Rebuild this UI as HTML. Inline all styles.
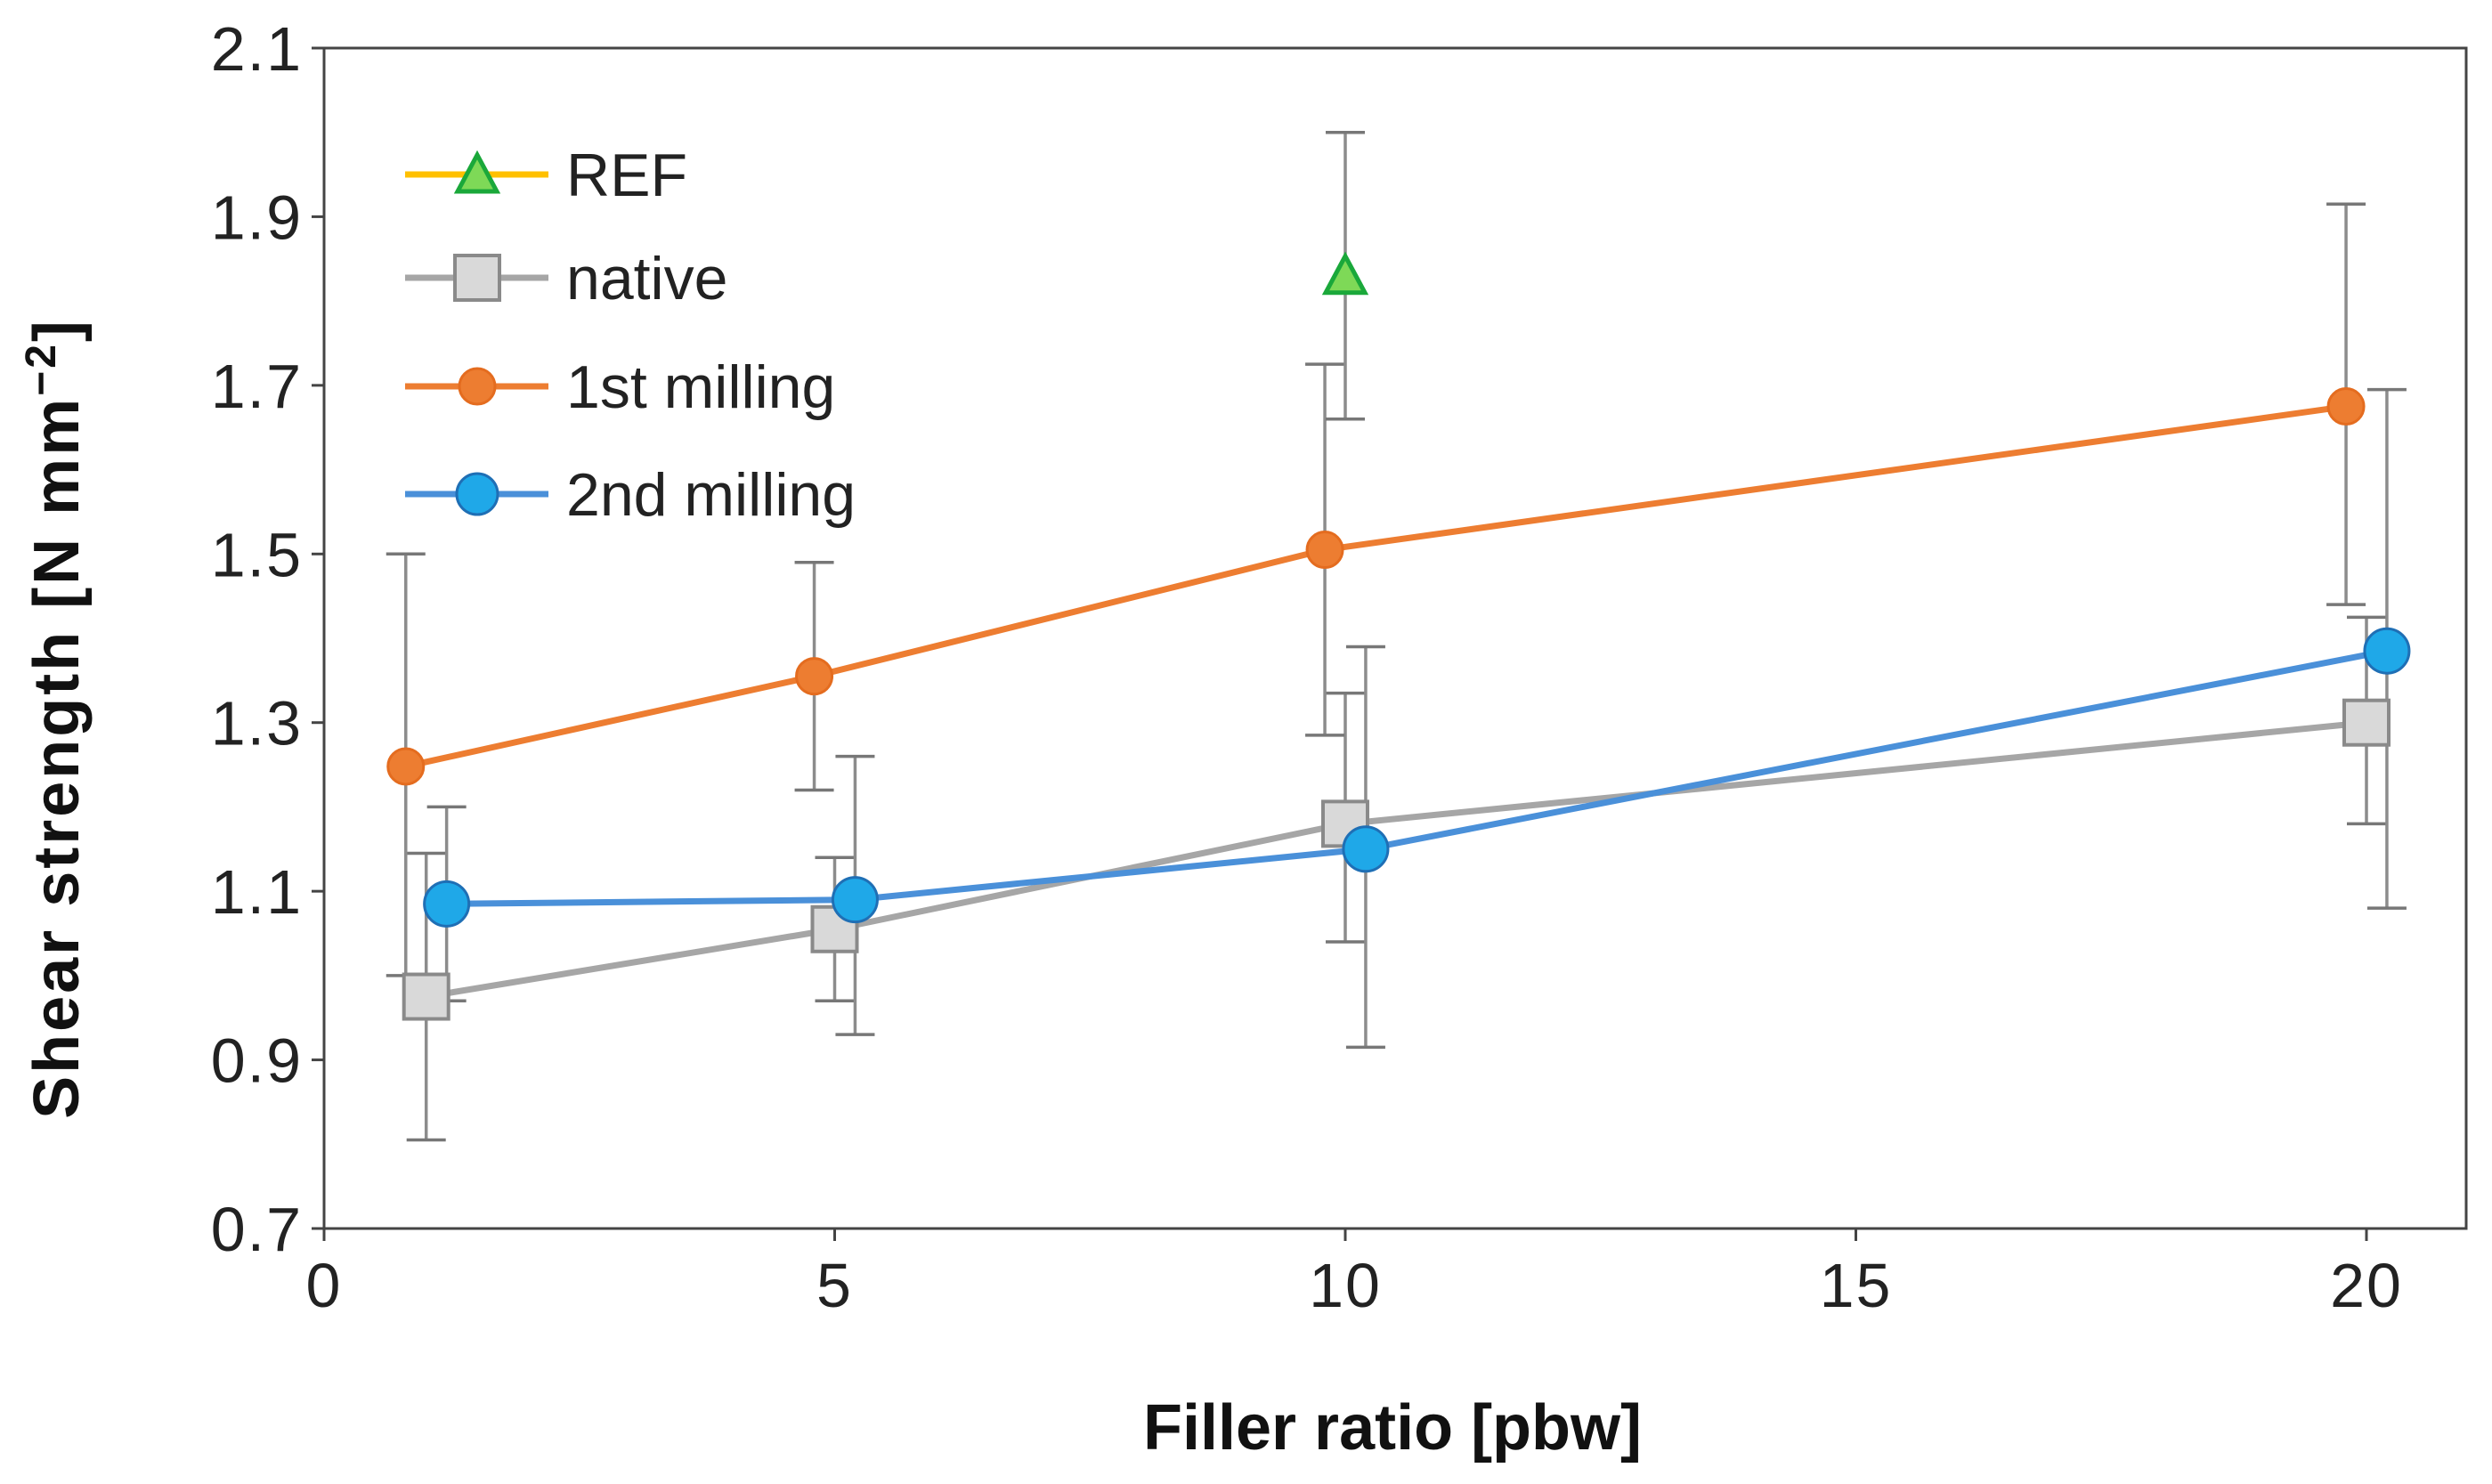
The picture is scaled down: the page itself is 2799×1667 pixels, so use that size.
<!DOCTYPE html>
<html><head><meta charset="utf-8">
<style>
html,body{margin:0;padding:0;background:#fff;}
svg{display:block;font-family:"Liberation Sans",sans-serif;}
</style></head>
<body>
<svg id="chart" width="2799" height="1667" viewBox="0 0 2799 1667" xmlns="http://www.w3.org/2000/svg">
<rect x="0" y="0" width="2799" height="1667" fill="#fff"/>
<g id="axes"></g>
<g id="errs"></g>
<g id="series"></g>
<g id="legend"></g>
<text x="1564" y="1628" font-size="72" font-weight="bold" text-anchor="middle" fill="#111">Filler ratio [pbw]</text>
<text transform="translate(88,807) rotate(-90)" font-size="72" font-weight="bold" text-anchor="middle" fill="#111" letter-spacing="3">Shear strength [N mm<tspan font-size="48" dy="-26">−2</tspan><tspan dy="26">]</tspan></text>
</svg>
<script>
const xTicks=[0,5,10,15,20];
const yTicks=[0.7,0.9,1.1,1.3,1.5,1.7,1.9,2.1];
const yTickLabels=["0.7","0.9","1.1","1.3","1.5","1.7","1.9","2.1"];
const refX=[10], refY=[1.83], refLo=[1.66], refHi=[2.0];
const nativeX=[1.0,5.0,10.0,20.0], nativeY=[0.975,1.055,1.18,1.30], nativeLo=[0.805,0.97,1.04,1.18], nativeHi=[1.145,1.14,1.335,1.425];
const m1X=[0.8,4.8,9.8,19.8], m1Y=[1.248,1.355,1.505,1.675], m1Lo=[1.0,1.22,1.285,1.44], m1Hi=[1.5,1.49,1.725,1.915];
const m2X=[1.2,5.2,10.2,20.2], m2Y=[1.085,1.09,1.15,1.385], m2Lo=[0.97,0.93,0.915,1.08], m2Hi=[1.2,1.26,1.39,1.695];

const NS="http://www.w3.org/2000/svg";
const L=364,R=2770,T=54,B=1380;
const X=v=>L+v*(2658-L)/20;
const Y=v=>B-(v-0.7)*(B-T)/1.4;
function el(tag,attrs,parent){const e=document.createElementNS(NS,tag);for(const k in attrs)e.setAttribute(k,attrs[k]);parent.appendChild(e);return e;}
const axes=document.getElementById('axes');
let fr=el('rect',{x:L,y:T,width:R-L,height:B-T,fill:'none',stroke:'#444','stroke-width':3},axes);


xTicks.forEach(v=>{
  let t=el('line',{x1:X(v),x2:X(v),y1:B,y2:B+14,stroke:'#444','stroke-width':3},axes);
  
  
  let l=el('text',{x:X(v),y:B+88,'font-size':70,'text-anchor':'middle',fill:'#222','letter-spacing':2},axes);
  l.textContent=v;
  
  
});
yTicks.forEach((v,i)=>{
  let t=el('line',{x1:L-14,x2:L,y1:Y(v),y2:Y(v),stroke:'#444','stroke-width':3},axes);
  
  
  let l=el('text',{x:L-24,y:Y(v)+25,'font-size':70,'text-anchor':'end',fill:'#222','letter-spacing':2},axes);
  l.textContent=yTickLabels[i];
  
  
});
const errs=document.getElementById('errs');
function errBars(xs,lo,hi,name){
  xs.forEach((x,i)=>{
    const g=el('g',{},errs);
    
    
    el('line',{x1:X(x),x2:X(x),y1:Y(lo[i]),y2:Y(hi[i]),stroke:'#8c8c8c','stroke-width':3.5},g);
    el('line',{x1:X(x)-22,x2:X(x)+22,y1:Y(lo[i]),y2:Y(lo[i]),stroke:'#777','stroke-width':3.5},g);
    el('line',{x1:X(x)-22,x2:X(x)+22,y1:Y(hi[i]),y2:Y(hi[i]),stroke:'#777','stroke-width':3.5},g);
  });
}
errBars(nativeX,nativeLo,nativeHi,'native');
errBars(m1X,m1Lo,m1Hi,'first-milling');
errBars(m2X,m2Lo,m2Hi,'second-milling');
errBars(refX,refLo,refHi,'ref');
const ser=document.getElementById('series');
function line(xs,ys,color,name){
  let p=el('polyline',{points:xs.map((x,i)=>X(x)+','+Y(ys[i])).join(' '),fill:'none',stroke:color,'stroke-width':7},ser);
  
  
}
function square(cx,cy,parent,name){let r=el('rect',{x:cx-25,y:cy-25,width:50,height:50,fill:'#d9d9d9',stroke:'#8a8a8a','stroke-width':4},parent);}
function circ(cx,cy,r,fill,stroke,parent,name){let c=el('circle',{cx:cx,cy:cy,r:r,fill:fill,stroke:stroke,'stroke-width':3},parent);}
function tri(cx,cy,parent,name){let p=el('polygon',{points:`${cx},${cy-22} ${cx-22},${cy+19} ${cx+22},${cy+19}`,fill:'#7ed957',stroke:'#1aa83a','stroke-width':5},parent);}
line(nativeX,nativeY,'#a6a6a6','native');
line(m1X,m1Y,'#ed7d31','first-milling');
line(m2X,m2Y,'#4a90d9','second-milling');
nativeX.forEach((x,i)=>square(X(x),Y(nativeY[i]),ser,'native-point'));
m1X.forEach((x,i)=>circ(X(x),Y(m1Y[i]),20,'#ed7d31','#e46c1f',ser,'first-milling-point'));
m2X.forEach((x,i)=>circ(X(x),Y(m2Y[i]),25,'#1fa8e8','#1f6fb5',ser,'second-milling-point'));
refX.forEach((x,i)=>tri(X(x),Y(refY[i]),ser,'ref-point'));
const leg=document.getElementById('legend');
const items=[['REF','#ffc000'],['native','#a6a6a6'],['1st milling','#ed7d31'],['2nd milling','#4a90d9']];
const ly=[196,312,434,555];
items.forEach((it,i)=>{
  const g=el('g',{},leg);
  
  
  el('line',{x1:455,x2:616,y1:ly[i],y2:ly[i],stroke:it[1],'stroke-width':7},g);
  if(i==0)tri(536,ly[i],g,'legend-marker');
  if(i==1)square(536,ly[i],g,'legend-marker');
  if(i==2)circ(536,ly[i],20,'#ed7d31','#e46c1f',g,'legend-marker');
  if(i==3)circ(536,ly[i],23,'#1fa8e8','#1f6fb5',g,'legend-marker');
  const t=el('text',{x:636,y:ly[i]+24,'font-size':68,fill:'#222'},g);
  t.textContent=it[0];
});
</script>
</body></html>
